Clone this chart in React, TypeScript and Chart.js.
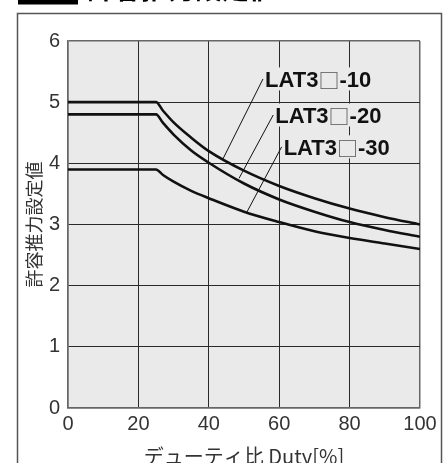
import React, { useEffect, useRef } from "react";
import { Chart, registerables } from "chart.js";

Chart.register(...registerables);

// ---- data ----
const dutyPercent = [0, 25, 27, 30, 35, 40, 50, 60, 70, 80, 90, 100];
const lat3_10 = [5.0, 5.0, 4.86, 4.67, 4.42, 4.2, 3.88, 3.63, 3.43, 3.26, 3.12, 3.0];
const lat3_20 = [4.8, 4.8, 4.66, 4.47, 4.21, 4.01, 3.67, 3.41, 3.21, 3.04, 2.91, 2.8];
const lat3_30 = [3.9, 3.9, 3.81, 3.7, 3.55, 3.43, 3.21, 3.04, 2.89, 2.78, 2.69, 2.6];
const seriesLabels = ["LAT3□-10", "LAT3□-20", "LAT3□-30"];
// leader lines: from label (start) to curve (end), in data units
const leaderStartX = [55.4, 58.3, 60.7];
const leaderStartY = [5.38, 4.79, 4.27];
const leaderEndX = [44.0, 48.6, 50.7];
const leaderEndY = [4.07, 3.755, 3.19];
const xMin = 0, xMax = 100, xStep = 20;
const yMin = 0, yMax = 6, yStep = 1;
const chartTitle = "許容推力設定値";
const yTitle = "許容推力設定値";
const xTitle = "デューティ比 Duty[%]";

const PLOT_BG = "#e9eae9";
const CANVAS_W = 448;
const CANVAS_H = 500;
const CANVAS_TOP = -20;
const LATIN_BOLD = 'bold 22px "Liberation Sans", Arial, sans-serif';
const BOX_FONT = '21px "Noto Sans CJK JP", sans-serif';

const toPoints = (xs: number[], ys: number[]) => xs.map((x, i) => ({ x, y: ys[i] }));

const decorPlugin = {
  id: "decor",
  beforeDraw(chart: any) {
    const { ctx, chartArea: a } = chart;
    ctx.save();
    ctx.fillStyle = "#ffffff";
    ctx.fillRect(0, 0, chart.width, chart.height);
    ctx.fillStyle = PLOT_BG;
    ctx.fillRect(a.left, a.top, a.right - a.left, a.bottom - a.top);
    // outer frame
    ctx.strokeStyle = "#555";
    ctx.lineWidth = 1.5;
    ctx.strokeRect(17.5, 33.5, 424, chart.height);
    // title block
    ctx.fillStyle = "#000";
    ctx.fillRect(18, 0, 60, 24.5);
    ctx.font = 'bold 27px "Noto Sans CJK JP", sans-serif';
    ctx.textBaseline = "alphabetic";
    ctx.textAlign = "left";
    ctx.fillText(chartTitle, 87, 19);
    ctx.restore();
  },
  afterDatasetsDraw(chart: any) {
    const { ctx } = chart;
    const xs = chart.scales.x;
    const ys = chart.scales.y;
    ctx.save();
    ctx.textBaseline = "alphabetic";
    ctx.textAlign = "left";
    seriesLabels.forEach((lbl, i) => {
      const px = xs.getPixelForValue(leaderStartX[i]) + 2;
      const py = ys.getPixelForValue(leaderStartY[i]);
      const idx = lbl.indexOf("□");
      const parts = idx >= 0
        ? [
            { t: lbl.slice(0, idx), f: LATIN_BOLD },
            { t: "□", f: BOX_FONT },
            { t: lbl.slice(idx + 1), f: LATIN_BOLD },
          ]
        : [{ t: lbl, f: LATIN_BOLD }];
      let total = 0;
      const widths = parts.map((p) => {
        ctx.font = p.f;
        const w = ctx.measureText(p.t).width;
        total += w;
        return w;
      });
      ctx.fillStyle = PLOT_BG;
      ctx.fillRect(px - 1, py - 11.5, total + 4, 23);
      const baseline = py + 8;
      let x = px;
      parts.forEach((p, k) => {
        ctx.font = p.f;
        ctx.fillStyle = p.t === "□" ? "#555" : "#111";
        ctx.fillText(p.t, x, p.t === "□" ? baseline + 1 : baseline);
        x += widths[k];
      });
    });
    ctx.restore();
  },
};

export default function App() {
  const ref = useRef<HTMLCanvasElement | null>(null);

  useEffect(() => {
    if (!ref.current) return;
    const curveStyle = {
      borderColor: "#111",
      borderWidth: 2.6,
      pointRadius: 0,
      fill: false,
      cubicInterpolationMode: "monotone" as const,
    };
    const leaderStyle = {
      borderColor: "#111",
      borderWidth: 1,
      pointRadius: 0,
      fill: false,
      tension: 0,
    };
    const chart = new Chart(ref.current, {
      type: "line",
      data: {
        datasets: [
          { label: seriesLabels[0], data: toPoints(dutyPercent, lat3_10), ...curveStyle },
          { label: seriesLabels[1], data: toPoints(dutyPercent, lat3_20), ...curveStyle },
          { label: seriesLabels[2], data: toPoints(dutyPercent, lat3_30), ...curveStyle },
          ...seriesLabels.map((l, i) => ({
            label: l + " leader",
            data: [
              { x: leaderStartX[i], y: leaderStartY[i] },
              { x: leaderEndX[i], y: leaderEndY[i] },
            ],
            ...leaderStyle,
          })),
        ],
      },
      options: {
        responsive: false,
        animation: false,
        events: [],
        layout: { padding: { left: 23, right: 28, top: 61, bottom: 12 } },
        plugins: {
          legend: { display: false },
          tooltip: { enabled: false },
        },
        scales: {
          x: {
            type: "linear",
            min: xMin,
            max: xMax,
            ticks: {
              stepSize: xStep,
              color: "#333",
              padding: 4,
              maxRotation: 0,
              font: { family: '"Liberation Sans", Arial, sans-serif', size: 20 },
            },
            grid: {
              color: (c: any) => (c.tick && (c.tick.value === xMin || c.tick.value === xMax) ? "#666" : "#2a2a2a"),
              lineWidth: (c: any) => (c.tick && (c.tick.value === xMin || c.tick.value === xMax) ? 1.5 : 1),
              drawTicks: false,
            },
            border: { display: true, color: "#666", width: 1.5 },
            title: {
              display: true,
              text: xTitle,
              color: "#333",
              padding: { top: 0, bottom: 0 },
              font: { family: '"Noto Sans CJK JP", sans-serif', size: 20 },
            },
            afterFit: (s: any) => {
              s.height = 60;
            },
          },
          y: {
            type: "linear",
            min: yMin,
            max: yMax,
            ticks: {
              stepSize: yStep,
              color: "#333",
              padding: 8,
              font: { family: '"Liberation Sans", Arial, sans-serif', size: 20 },
            },
            grid: {
              color: (c: any) => (c.tick && (c.tick.value === yMin || c.tick.value === yMax) ? "#666" : "#2a2a2a"),
              lineWidth: (c: any) => (c.tick && (c.tick.value === yMin || c.tick.value === yMax) ? 1.5 : 1),
              drawTicks: false,
            },
            border: { display: true, color: "#666", width: 1.5 },
            title: {
              display: true,
              text: yTitle,
              color: "#333",
              padding: { top: 0, bottom: 0 },
              font: { family: '"Noto Sans CJK JP", sans-serif', size: 18 },
            },
            afterFit: (s: any) => {
              s.width = 45;
            },
          },
        },
      },
      plugins: [decorPlugin],
    });
    return () => chart.destroy();
  }, []);

  return (
    <div
      style={{
        position: "fixed",
        left: 0,
        top: 0,
        width: CANVAS_W,
        height: 463,
        overflow: "hidden",
        background: "#fff",
      }}
    >
      <canvas
        ref={ref}
        width={CANVAS_W}
        height={CANVAS_H}
        style={{ position: "absolute", left: 0, top: CANVAS_TOP, width: CANVAS_W, height: CANVAS_H }}
      />
    </div>
  );
}
